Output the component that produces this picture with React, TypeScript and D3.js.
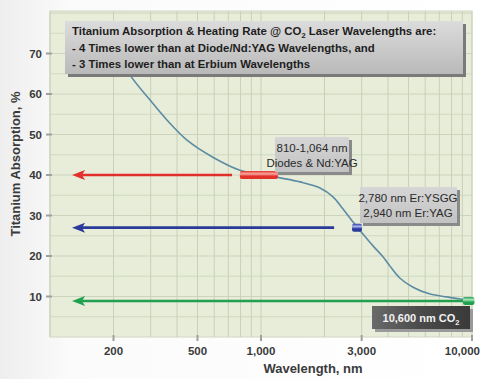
import React from "react";
import * as d3 from "d3";

const curveWavelength = [172, 234, 298, 358, 446, 591, 794, 1000, 1233, 1530, 1904, 2194, 2447, 2700, 2850, 3044, 3395, 3786, 4087, 4558, 5253, 6324, 7612, 8772, 10000];
const curveAbsorption = [78, 65.4, 58.5, 53.6, 48.6, 44.4, 41.2, 40.2, 39.3, 38.3, 36.8, 34.6, 31.6, 28.7, 27.2, 25.4, 22.5, 19.8, 17.5, 14.5, 12.3, 10.6, 9.9, 9.4, 9.0];

const yTicks = [10, 20, 30, 40, 50, 60, 70];
const xTicks = [200, 500, 1000, 3000, 10000];
const xTickLabels = ["200", "500", "1,000", "3,000", "10,000"];

const laserNames = ["Diode/Nd:YAG", "Erbium", "CO2"];
const laserFrom = [794, 2700, 9060];
const laserTo = [1203, 3010, 10270];
const laserAbsorption = [40, 27, 8.9];
const laserArrowEnd = [729, 2220, 10000];
const laserColors = ["#e2312a", "#2a3a9a", "#21a050"];
const laserLight = ["#f7a9a0", "#aab4ee", "#a9e8bd"];

const titleLines = [
  "Titanium Absorption & Heating Rate @ CO",
  "- 4 Times lower than at Diode/Nd:YAG Wavelengths, and",
  "- 3 Times lower than at Erbium Wavelengths",
];

const W = 481, H = 379;
const L = 50, R = 472, T = 11, B = 337;

export default function App() {
  const x = d3.scaleLog().domain([100, 10000]).range([L, R]);
  const y = d3.scaleLinear().domain([0, 80.5]).range([B, T]);

  const minor: number[] = [];
  for (const dec of [100, 1000]) for (let k = 1; k <= 9; k++) minor.push(dec * k);
  minor.push(10000);
  const hGrid = d3.range(5, 81, 5);

  const pts = curveWavelength.map((w, i) => [x(w), y(curveAbsorption[i])] as [number, number]);
  const line = d3.line().curve(d3.curveCatmullRom.alpha(0.5))(pts) || "";

  const font = "'Liberation Sans', Arial, sans-serif";

  return (
    <svg width={W} height={H} style={{ position: "absolute", left: 0, top: 0, display: "block" }} fontFamily={font}>
      <defs>
        <linearGradient id="bgG" x1="0" y1="0" x2="1" y2="0">
          <stop offset="0" stopColor="#eeeeee" />
          <stop offset="0.15" stopColor="#fbfbfb" />
          <stop offset="1" stopColor="#ffffff" />
        </linearGradient>
        <linearGradient id="titleG" x1="0" y1="0" x2="0" y2="1">
          <stop offset="0" stopColor="#dcdcdc" />
          <stop offset="1" stopColor="#b9b9b9" />
        </linearGradient>
        <linearGradient id="lblG" x1="0" y1="0" x2="0" y2="1">
          <stop offset="0" stopColor="#d6d6d6" />
          <stop offset="1" stopColor="#c2c2c2" />
        </linearGradient>
        <linearGradient id="co2G" x1="0" y1="0" x2="1" y2="0">
          <stop offset="0" stopColor="#6a6a6a" />
          <stop offset="0.5" stopColor="#4a4a4a" />
          <stop offset="1" stopColor="#3a3a3a" />
        </linearGradient>
        {laserColors.map((c, i) => (
          <linearGradient key={i} id={`mk${i}`} x1="0" y1="0" x2="0" y2="1">
            <stop offset="0" stopColor={c} />
            <stop offset="0.35" stopColor={laserLight[i]} />
            <stop offset="0.65" stopColor={c} />
            <stop offset="1" stopColor={c} />
          </linearGradient>
        ))}
        <clipPath id="plotClip">
          <rect x={L} y={T} width={R - L} height={B - T} />
        </clipPath>
      </defs>
      <rect x={0} y={0} width={W} height={H} fill="url(#bgG)" />
      <rect x={L} y={T} width={R - L} height={B - T} fill="#e7edd8" stroke="#d0d6c4" />
      {hGrid.map((v) => (
        <line key={"h" + v} x1={L} x2={R} y1={y(v)} y2={y(v)} stroke="#cdd4be" strokeWidth={v % 10 === 0 ? 1 : 0.8} />
      ))}
      {minor.map((v) => (
        <line key={"v" + v} x1={x(v)} x2={x(v)} y1={T} y2={B} stroke="#c9d0ba" strokeWidth={1} />
      ))}
      {yTicks.map((v) => (
        <g key={"yt" + v}>
          <line x1={L - 4} x2={L + 2} y1={y(v)} y2={y(v)} stroke="#a0a0a0" strokeWidth={2} />
          <text x={L - 8} y={y(v) + 4} textAnchor="end" fontSize={11.5} fontWeight="bold" fill="#3a3a3a">{v}</text>
        </g>
      ))}
      {xTicks.map((v, i) => {
        const last = i === xTicks.length - 1;
        return (
          <g key={"xt" + v}>
            <line x1={x(v)} x2={x(v)} y1={B - 2} y2={B + 4} stroke="#a0a0a0" strokeWidth={2} />
            <text x={last ? W - 1 : x(v)} y={B + 18} textAnchor={last ? "end" : "middle"} fontSize={11.5} fontWeight="bold" fill="#3a3a3a">{xTickLabels[i]}</text>
          </g>
        );
      })}
      <text x={313} y={373} textAnchor="middle" fontSize={13} fontWeight="bold" fill="#3a3a3a">Wavelength, nm</text>
      <text transform={`translate(20,${164}) rotate(-90)`} textAnchor="middle" fontSize={13} fontWeight="bold" fill="#3a3a3a">Titanium Absorption, %</text>

      <g clipPath="url(#plotClip)">
        <path d={line} fill="none" stroke="#5c8ca3" strokeWidth={1.6} />
        {laserNames.map((n, i) => {
          const yy = y(laserAbsorption[i]);
          const x0 = x(130);
          const x1 = x(laserArrowEnd[i]);
          return (
            <g key={n}>
              <line x1={x0 + 8} x2={x1} y1={yy} y2={yy} stroke={laserColors[i]} strokeWidth={2.6} />
              <path d={`M${x0 - 2},${yy} L${x0 + 11},${yy - 5} L${x0 + 8},${yy} L${x0 + 11},${yy + 5} Z`} fill={laserColors[i]} />
            </g>
          );
        })}
      </g>
      {laserNames.map((n, i) => {
        const yy = y(laserAbsorption[i]);
        return (
          <rect key={"m" + n} x={x(laserFrom[i])} y={yy - 4} width={x(laserTo[i]) - x(laserFrom[i])} height={8} rx={2} fill={`url(#mk${i})`} />
        );
      })}

      <rect x={68} y={24} width={398} height={53} fill="#7a7a7a" />
      <rect x={65} y={21} width={398} height={53} fill="url(#titleG)" />
      <text x={72} y={35} fontSize={11.4} fontWeight="bold" fill="#1e1e1e">
        {titleLines[0]}
        <tspan fontSize={7.5} dy={3}>2</tspan>
        <tspan dy={-3}> Laser Wavelengths are:</tspan>
      </text>
      <text x={72} y={52} fontSize={11.4} fontWeight="bold" fill="#1e1e1e">{titleLines[1]}</text>
      <text x={72} y={68} fontSize={11.4} fontWeight="bold" fill="#1e1e1e">{titleLines[2]}</text>

      <rect x={278} y={140} width={74} height={35} fill="#8a8a8a" />
      <rect x={275} y={137} width={74} height={35} fill="url(#lblG)" />
      <text x={312} y={152} textAnchor="middle" fontSize={11.5} fill="#2a2a2a">810-1,064 nm</text>
      <text x={312} y={167} textAnchor="middle" fontSize={11.5} fill="#2a2a2a">Diodes &amp; Nd:YAG</text>

      <rect x={363} y={190} width={97} height={36} fill="#8a8a8a" />
      <rect x={360} y={187} width={97} height={36} fill="url(#lblG)" />
      <text x={408} y={202} textAnchor="middle" fontSize={11.5} fill="#2a2a2a">2,780 nm Er:YSGG</text>
      <text x={408} y={217} textAnchor="middle" fontSize={11.5} fill="#2a2a2a">2,940 nm Er:YAG</text>

      <rect x={375} y={309} width={98} height={23} fill="#9a9a9a" />
      <rect x={372} y={306} width={98} height={23} fill="url(#co2G)" />
      <text x={421} y={321.5} textAnchor="middle" fontSize={11} fontWeight="bold" fill="#f2f2f2">
        10,600 nm CO<tspan fontSize={7.5} dy={3}>2</tspan>
      </text>
    </svg>
  );
}
